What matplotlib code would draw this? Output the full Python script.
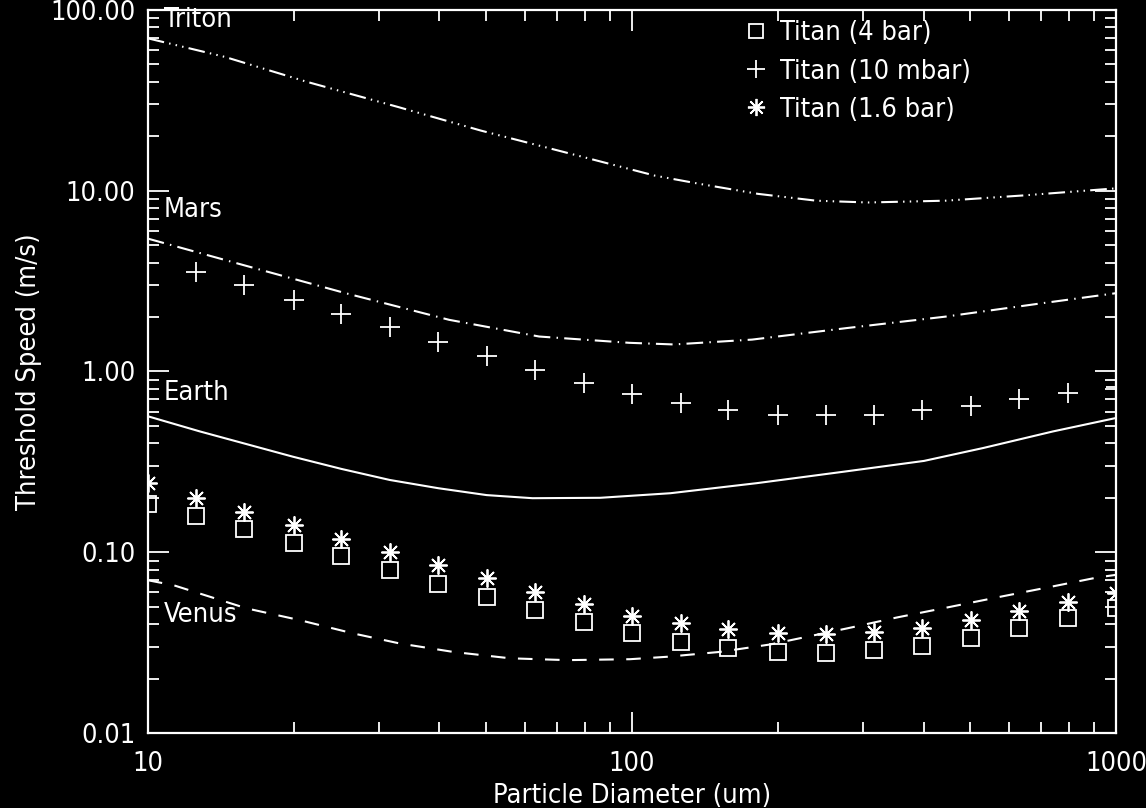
import matplotlib
matplotlib.use("Agg")
import matplotlib.pyplot as plt
from matplotlib.ticker import FixedLocator, FuncFormatter, LogLocator, NullFormatter

# threshold speed curves (m/s) vs particle diameter (um)
triton_d = [10, 14.4, 21.3, 32.9, 48.7, 72.7, 111.6, 138, 182, 240, 307, 444, 640, 1000]
triton_v = [69.6, 55.0, 40.0, 29.0, 21.5, 16.3, 12.1, 10.9, 9.6, 8.8, 8.6, 8.8, 9.4, 10.3]

mars_d = [10, 15.3, 25.6, 41.9, 64.3, 98.6, 122, 177, 279, 444, 700, 1000]
mars_v = [5.43, 3.96, 2.71, 1.93, 1.56, 1.44, 1.41, 1.50, 1.74, 2.01, 2.38, 2.71]

earth_d = [10, 12.8, 19.9, 25.1, 31.6, 39.8, 50.1, 62.3, 85.9, 120, 181, 274, 401, 531, 741, 1000]
earth_v = [0.565, 0.466, 0.338, 0.289, 0.251, 0.226, 0.207, 0.199, 0.200, 0.212, 0.241, 0.279,
           0.320, 0.377, 0.466, 0.553]

venus_d = [10, 11.3, 16, 20.6, 26.5, 33.1, 42.7, 56, 73.4, 99, 118, 152, 193, 278, 353, 448, 576, 731, 914, 1000]
venus_v = [0.070, 0.0657, 0.0489, 0.0421, 0.0356, 0.0313, 0.0281, 0.0259, 0.0253, 0.0256, 0.0264, 0.0281,
           0.0309, 0.0379, 0.0436, 0.0495, 0.0567, 0.0643, 0.0725, 0.075]

# Titan model points, 10 per decade
titan_d = [10, 12.6, 15.8, 20, 25.1, 31.6, 39.8, 50.1, 63.1, 79.4, 100,
           126, 158, 200, 251, 316, 398, 501, 631, 794, 1000]
titan_4bar = [0.186, 0.159, 0.134, 0.113, 0.095, 0.080, 0.067, 0.0567, 0.0478, 0.0412, 0.0356,
              0.0319, 0.0294, 0.0281, 0.0278, 0.0288, 0.0303, 0.0334, 0.0379, 0.0430, 0.0489]
titan_16bar = [0.241, 0.199, 0.167, 0.141, 0.119, 0.100, 0.0848, 0.0716, 0.0604, 0.0516, 0.0445,
               0.0404, 0.0374, 0.0356, 0.0351, 0.0363, 0.0379, 0.0421, 0.0474, 0.0531, 0.0592]
titan_10mbar_d = titan_d[1:]
titan_10mbar = [3.56, 3.0, 2.49, 2.08, 1.75, 1.46, 1.21, 1.02, 0.865, 0.75,
                0.67, 0.615, 0.577, 0.572, 0.577, 0.615, 0.647, 0.70, 0.76, 0.82]

plt.rcParams["font.family"] = "DejaVu Sans"
plt.rcParams["font.stretch"] = "condensed"
fs = 19.5

fig = plt.figure(figsize=(11.46, 8.08), dpi=100, facecolor="black")
ax = fig.add_axes([0.129, 0.0928, 0.845, 0.895])
ax.set_facecolor("black")
ax.set_xscale("log")
ax.set_yscale("log")

lw = 1.5
ax.plot(triton_d, triton_v, color="white", lw=lw, dashes=(8, 2.5, 0.7, 2.5, 0.7, 2.5, 0.7, 2.5))
ax.plot(mars_d, mars_v, color="white", lw=lw, dashes=(8, 3, 0.7, 3))
ax.plot(earth_d, earth_v, color="white", lw=lw)
ax.plot(venus_d, venus_v, color="white", lw=lw, dashes=(7, 6))

ax.plot(titan_d, titan_4bar, ls="none", marker="s", ms=11, mfc="none", mec="white", mew=1.3,
        label="Titan (4 bar)")
ax.plot(titan_10mbar_d, titan_10mbar, ls="none", marker="+", ms=14, mec="white", mew=1.3,
        label="Titan (10 mbar)")
ax.plot(titan_d, titan_16bar, ls="none", marker=(8, 2, 0), ms=13, mec="white", mew=1.3,
        label="Titan (1.6 bar)")

ax.set_xlim(10, 1000)
ax.set_ylim(0.01, 100)

# planet names along the left edge
for name, yv in [("Triton", 88), ("Mars", 7.8), ("Earth", 0.76), ("Venus", 0.045)]:
    ax.text(10.8, yv, name, color="white", fontsize=fs, ha="left", va="center")

leg = ax.legend(loc="upper left", bbox_to_anchor=(0.60, 1.008), frameon=False, fontsize=fs,
                handlelength=0.8, handletextpad=0.5, labelspacing=0.45, borderpad=0.1,
                labelcolor="white", markerscale=0.95)

ax.xaxis.set_major_locator(FixedLocator([10, 100, 1000]))
ax.xaxis.set_major_formatter(FuncFormatter(lambda v, p: "%d" % v))
ax.xaxis.set_minor_locator(LogLocator(base=10, subs=range(2, 10)))
ax.xaxis.set_minor_formatter(NullFormatter())
ax.yaxis.set_major_locator(FixedLocator([0.01, 0.1, 1, 10, 100]))
ax.yaxis.set_major_formatter(FuncFormatter(lambda v, p: "%.2f" % v))
ax.yaxis.set_minor_locator(LogLocator(base=10, subs=range(2, 10)))
ax.yaxis.set_minor_formatter(NullFormatter())

ax.tick_params(which="both", direction="in", top=True, right=True, colors="white", labelsize=fs)
ax.tick_params(which="major", length=15, width=1.3)
ax.tick_params(which="minor", length=8, width=1.3)
ax.tick_params(axis="x", which="major", pad=13)
ax.tick_params(axis="y", which="major", pad=9)
for sp in ax.spines.values():
    sp.set_color("white")
    sp.set_linewidth(1.6)

ax.set_xlabel("Particle Diameter (um)", color="white", fontsize=fs, labelpad=4)
ax.set_ylabel("Threshold Speed (m/s)", color="white", fontsize=fs, labelpad=6)

fig.savefig("out.png", dpi=100, facecolor="black")
